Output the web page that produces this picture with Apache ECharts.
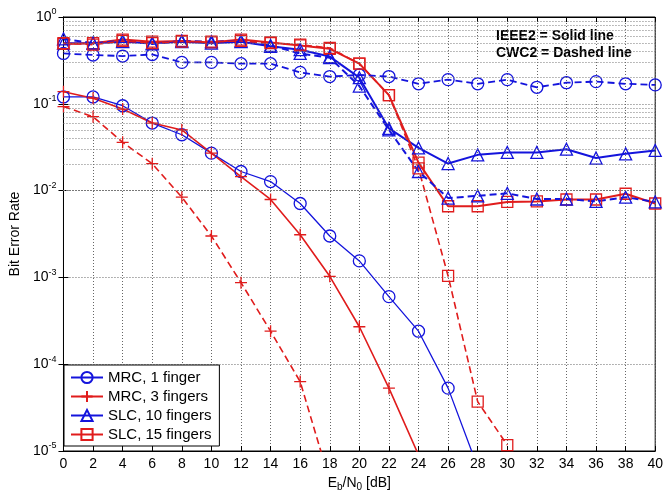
<!DOCTYPE html>
<html>
<head>
<meta charset="utf-8">
<script src="https://cdn.jsdelivr.net/npm/echarts@6/dist/echarts.min.js"></script>
<style>
  html, body { margin: 0; padding: 0; background: #fff; }
  #main { width: 666px; height: 499px; }
</style>
</head>
<body>
<div id="main"></div>
<script>
// Eb/N0 [dB]
var snr = [0, 2, 4, 6, 8, 10, 12, 14, 16, 18, 20, 22, 24, 26, 28, 30, 32, 34, 36, 38, 40];
var yDecades = [-5, -4, -3, -2, -1, 0];

// IEEE2 = solid line, CWC2 = dashed line
var mrc1Ieee = [0.12, 0.12, 0.095, 0.06, 0.044, 0.027, 0.0166, 0.0127, 0.0071, 0.003, 0.00155, 0.0006, 0.00024, 5.3e-5, 6.5e-6];
var mrc1Cwc = [0.38, 0.365, 0.355, 0.37, 0.30, 0.30, 0.29, 0.29, 0.23, 0.206, 0.215, 0.206, 0.17, 0.19, 0.17, 0.19, 0.155, 0.175, 0.18, 0.17, 0.165];
var mrc3Ieee = [0.138, 0.116, 0.087, 0.06, 0.05, 0.027, 0.0145, 0.0079, 0.0031, 0.00103, 0.00027, 5.3e-5, 9e-6];
var mrc3Cwc = [0.093, 0.071, 0.036, 0.0204, 0.0084, 0.003, 0.00087, 0.00024, 6.3e-5, 4.5e-6];
var slc10Ieee = [0.5, 0.5, 0.52, 0.5, 0.52, 0.5, 0.52, 0.46, 0.42, 0.35, 0.2, 0.052, 0.031, 0.0205, 0.0258, 0.0275, 0.0275, 0.030, 0.0237, 0.0265, 0.029];
var slc10Cwc = [0.56, 0.5, 0.53, 0.49, 0.53, 0.52, 0.53, 0.47, 0.38, 0.34, 0.16, 0.05, 0.0166, 0.0082, 0.0087, 0.0093, 0.0080, 0.0080, 0.0075, 0.0084, 0.0074];
var slc15Ieee = [0.49, 0.5, 0.55, 0.52, 0.53, 0.51, 0.55, 0.51, 0.47, 0.43, 0.29, 0.126, 0.021, 0.0066, 0.0066, 0.0074, 0.0075, 0.0079, 0.0079, 0.0092, 0.0071];
var slc15Cwc = [0.5, 0.48, 0.53, 0.5, 0.52, 0.52, 0.53, 0.5, 0.48, 0.44, 0.29, 0.126, 0.018, 0.00104, 3.7e-5, 1.17e-5];

var BLUE = '#1414dc';
var RED = '#e01c1c';
var plusSym = 'path://M10,0 L10,20 M0,10 L20,10';

// minor log grid lines 2..9 in each decade
var minorLines = [];
yDecades.slice(0, -1).forEach(function (d) {
  for (var k = 2; k <= 9; k++) minorLines.push({ yAxis: k * Math.pow(10, d) });
});

function pairs(vals) {
  return vals.map(function (v, i) { return [snr[i], v]; });
}

function mk(name, vals, color, symbol, dashed, width) {
  return {
    name: name,
    type: 'line',
    data: pairs(vals),
    symbol: symbol,
    symbolSize: symbol === 'rect' ? 11 : 12,
    showAllSymbol: true,
    clip: true,
    animation: false,
    lineStyle: { color: color, width: width, type: dashed ? [7, 4] : 'solid' },
    itemStyle: { color: 'rgba(255,255,255,0)', borderColor: color, borderWidth: 1.3 },
    emphasis: { disabled: true }
  };
}

var series = [
  mk('MRC, 1 finger', mrc1Ieee, BLUE, 'circle', false, 1.3),
  mk('MRC, 3 fingers', mrc3Ieee, RED, plusSym, false, 1.6),
  mk('SLC, 10 fingers', slc10Ieee, BLUE, 'triangle', false, 2),
  mk('SLC, 15 fingers', slc15Ieee, RED, 'rect', false, 2),
  mk('MRC, 1 finger', mrc1Cwc, BLUE, 'circle', true, 1.8),
  mk('MRC, 3 fingers', mrc3Cwc, RED, plusSym, true, 1.6),
  mk('SLC, 10 fingers', slc10Cwc, BLUE, 'triangle', true, 2),
  mk('SLC, 15 fingers', slc15Cwc, RED, 'rect', true, 1.6)
];
series[0].markLine = {
  silent: true,
  symbol: 'none',
  label: { show: false },
  animation: false,
  lineStyle: { color: '#777', width: 1, type: [1, 2] },
  data: minorLines
};

var gridStyle = { show: true, lineStyle: { color: '#666', width: 1, type: [1, 2] } };
var font = 'Liberation Sans, Arial, sans-serif';

var chart = echarts.init(document.getElementById('main'));
chart.setOption({
  backgroundColor: '#fff',
  textStyle: { fontFamily: font },
  grid: { left: 58, right: 10, top: 17, bottom: 48, show: true, borderColor: '#000', borderWidth: 1, backgroundColor: '#fff' },
  xAxis: [{
    type: 'value', min: 0, max: 40, interval: 2,
    name: 'E{sub|b}/N{sub|0} [dB]', nameLocation: 'middle', nameGap: 21,
    nameTextStyle: {
      fontSize: 14, color: '#000', fontFamily: font,
      rich: { sub: { fontSize: 10, color: '#000', fontFamily: font, padding: [9, 0, 0, 0] } }
    },
    axisLine: { show: true, lineStyle: { color: '#000' } },
    axisTick: { inside: true, length: 5, lineStyle: { color: '#000' } },
    axisLabel: { fontSize: 14, color: '#000', margin: 6, fontFamily: font },
    splitLine: gridStyle
  }, {
    type: 'value', min: 0, max: 40, interval: 2, position: 'top',
    axisLine: { show: true, lineStyle: { color: '#000' } },
    axisTick: { inside: true, length: 5, lineStyle: { color: '#000' } },
    axisLabel: { show: false }, splitLine: { show: false }
  }],
  yAxis: [{
    type: 'log', logBase: 10, min: 1e-5, max: 1,
    name: 'Bit Error Rate', nameLocation: 'middle', nameGap: 33,
    nameTextStyle: { fontSize: 14, color: '#000', fontFamily: font },
    axisLine: { show: true, lineStyle: { color: '#000' } },
    axisTick: { inside: true, length: 5, lineStyle: { color: '#000' } },
    axisLabel: {
      fontSize: 14, color: '#000', margin: 7, fontFamily: font,
      formatter: function (v) { return '10{sup|' + Math.round(Math.log10(v)) + '}'; },
      rich: { sup: { fontSize: 9, color: '#000', fontFamily: font, padding: [0, 0, 10, 0] } }
    },
    splitLine: gridStyle
  }, {
    type: 'log', logBase: 10, min: 1e-5, max: 1, position: 'right',
    axisLine: { show: true, lineStyle: { color: '#000' } },
    axisTick: { inside: true, length: 5, lineStyle: { color: '#000' } },
    axisLabel: { show: false }, splitLine: { show: false }
  }],
  legend: {
    data: ['MRC, 1 finger', 'MRC, 3 fingers', 'SLC, 10 fingers', 'SLC, 15 fingers'],
    orient: 'vertical', left: 64, top: 365,
    backgroundColor: '#fff', borderColor: '#000', borderWidth: 1, borderRadius: 0,
    padding: [5, 8, 4, 6], itemGap: 4, itemWidth: 32, itemHeight: 14,
    textStyle: { fontSize: 15, color: '#000', fontFamily: font },
    selectedMode: false
  },
  graphic: [{
    type: 'text', left: 496, top: 29,
    style: { text: 'IEEE2 = Solid line', font: 'bold 14px ' + font, fill: '#000' }
  }, {
    type: 'text', left: 496, top: 46,
    style: { text: 'CWC2 = Dashed line', font: 'bold 14px ' + font, fill: '#000' }
  }],
  series: series
});
</script>
</body>
</html>
